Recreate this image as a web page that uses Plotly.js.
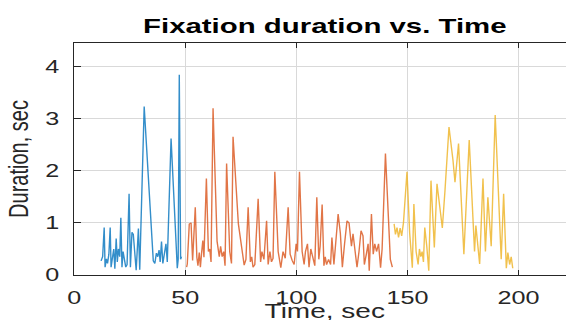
<!DOCTYPE html>
<html>
<head>
<meta charset="utf-8">
<script src="https://cdn.plot.ly/plotly-3.0.1.min.js"></script>
<style>
html, body { margin: 0; padding: 0; overflow: hidden; background: #fff; width: 566px; height: 320px; }
#plot { width: 411px; height: 320px; transform: scaleX(1.4); transform-origin: 0 0; }
</style>
</head>
<body>
<div id="plot"></div>
<script>
// Series 1 (blue)
const blueTime = [12.1,12.8,13.5,13.9,14.5,15.0,15.6,16.2,16.6,17.2,17.8,18.3,18.9,19.4,19.9,20.5,21.0,21.5,22.0,22.6,23.2,23.8,24.7,25.3,26.0,26.6,27.2,27.9,28.9,29.5,31.5,35.6,36.3,37.0,37.6,38.2,38.7,39.3,39.9,40.6,41.3,41.9,43.6,46.4,46.8,47.3,47.9,48.3];
const blueDur  = [0.27,0.35,0.91,0.15,0.31,0.22,0.40,0.91,0.15,0.30,0.50,0.12,0.70,0.25,0.50,0.35,1.10,0.15,0.45,0.30,0.15,0.20,1.56,0.15,0.82,0.78,0.40,0.09,0.89,0.10,3.23,0.27,0.22,0.42,0.35,0.48,0.25,0.64,0.22,0.40,0.60,0.25,2.62,0.13,0.30,3.84,0.30,0.35];

// Series 2 (orange)
const orangeTime = [50.6,50.9,51.8,52.6,53.3,54.5,55.2,55.7,56.3,56.8,57.4,57.9,58.4,59.5,60.4,61.0,61.6,62.5,64.3,65.3,65.9,66.6,67.3,67.9,68.6,70.0,70.8,71.5,73.9,74.8,75.6,76.5,77.3,78.3,79.3,79.9,80.5,81.3,82.8,83.9,84.5,85.4,86.6,87.3,88.1,88.8,89.5,90.3,91.8,93.0,94.0,95.0,96.3,97.2,98.1,99.0,99.9,100.5,101.4,102.6,103.5,104.1,105.0,105.7,106.5,107.5,108.3,109.2,110.1,110.7,111.6,112.4,113.0,113.6,114.5,115.4,116.0,116.9,117.8,118.8,119.8,120.7,121.7,122.8,123.7,124.8,125.5,126.4,127.3,128.2,129.1,130.0,130.6,131.5,132.3,132.8,133.8,134.6,135.3,136.1,137.0,137.9,138.6,140.1,142.3,143.2];
const orangeDur  = [0.15,0.21,0.98,1.00,0.28,1.30,0.34,0.18,0.43,0.15,0.45,0.66,0.34,1.85,0.45,0.50,0.25,3.20,0.65,0.35,0.55,0.35,0.45,0.18,2.14,0.45,0.22,2.65,0.98,0.70,0.50,0.19,0.30,1.30,0.25,0.35,0.15,0.20,1.46,0.25,0.45,0.30,1.04,0.20,0.45,0.25,0.32,1.98,0.45,0.14,0.45,0.32,1.30,0.40,0.28,0.20,0.60,0.45,1.98,0.45,0.20,0.45,0.60,0.15,0.50,0.35,0.18,1.49,0.30,0.55,1.35,0.18,0.35,0.20,0.30,0.20,0.72,0.20,0.60,1.17,0.80,0.15,0.60,1.04,1.00,0.55,0.79,0.40,0.15,0.45,0.85,0.75,0.20,0.40,0.60,0.08,1.17,0.40,0.60,0.45,0.60,0.14,0.50,2.33,0.30,0.15];

// Series 3 (yellow)
const yellowTime = [144.0,144.6,145.3,146.0,146.7,147.4,148.2,149.8,151.0,152.2,152.9,153.9,154.8,155.4,156.0,156.6,157.2,157.8,158.7,159.6,160.6,161.5,162.1,163.3,164.2,165.7,166.9,167.8,168.7,170.5,171.4,173.0,174.2,175.4,177.8,179.4,180.2,180.8,182.5,184.0,185.1,186.2,187.7,189.5,192.2,193.3,194.5,195.2,196.0,196.7,197.4];
const yellowDur  = [0.98,0.78,0.91,0.72,0.90,0.75,1.00,1.98,0.80,0.14,1.36,0.45,0.20,0.50,0.35,0.45,0.25,0.91,0.55,0.08,1.81,1.10,0.53,1.75,1.45,0.90,1.62,2.20,2.84,2.20,1.78,2.52,1.43,0.40,2.59,0.90,0.45,0.95,0.21,1.85,0.45,1.49,0.55,3.07,0.30,1.56,0.13,0.43,0.20,0.35,0.13];

const xTicks = [0, 50, 100, 150, 200, 250];
const yTicks = [0, 1, 2, 3, 4];

const axisColor = '#262626';
const fontFam = 'Liberation Sans, Arial, Helvetica, sans-serif';

const traces = [
  {x: blueTime, y: blueDur, type: 'scatter', mode: 'lines', line: {color: '#0072BD', width: 1}, opacity: 0.8, hoverinfo: 'skip'},
  {x: orangeTime, y: orangeDur, type: 'scatter', mode: 'lines', line: {color: '#D95319', width: 1}, opacity: 0.8, hoverinfo: 'skip'},
  {x: yellowTime, y: yellowDur, type: 'scatter', mode: 'lines', line: {color: '#EDB120', width: 1}, opacity: 0.8, hoverinfo: 'skip'}
];

const layout = {
  width: 411, height: 320,
  margin: {l: 53, r: 0, t: 43, b: 45},
  paper_bgcolor: '#ffffff', plot_bgcolor: '#ffffff',
  showlegend: false,
  font: {family: fontFam, color: axisColor, size: 18},
  title: {text: '<b>Fixation duration vs. Time</b>', font: {family: fontFam, size: 21, color: '#000'}, xref: 'paper', x: 0.5, xanchor: 'center', y: 0.92, yanchor: 'middle'},
  xaxis: {
    range: [0, 225.6], tickvals: xTicks, ticktext: xTicks.map(String),
    showgrid: true, gridcolor: '#d9d9d9', gridwidth: 1, zeroline: false,
    showline: true, linecolor: axisColor, linewidth: 1, mirror: 'ticks',
    ticks: 'inside', ticklen: 5, tickcolor: axisColor, tickwidth: 1,
    tickfont: {family: fontFam, size: 18, color: axisColor},
    ticklabelstandoff: 6,
    automargin: false
  },
  yaxis: {
    range: [0, 4.45], tickvals: yTicks,
    showgrid: true, gridcolor: '#d9d9d9', gridwidth: 1, zeroline: false,
    showline: true, linecolor: axisColor, linewidth: 1, mirror: false,
    ticks: 'inside', ticklen: 5, tickcolor: axisColor, tickwidth: 1,
    tickfont: {family: fontFam, size: 18, color: axisColor},
    ticklabelstandoff: 6,
    title: {text: 'Duration, sec', font: {family: fontFam, size: 20, color: axisColor}, standoff: 6},
    automargin: false
  },
  annotations: [{
    text: 'Time, sec', xref: 'paper', yref: 'paper', x: 0.5, y: 0,
    xanchor: 'center', yanchor: 'top', yshift: -23, showarrow: false,
    font: {family: fontFam, size: 20, color: axisColor}
  }]
};

Plotly.newPlot('plot', traces, layout, {staticPlot: true, displayModeBar: false});
</script>
</body>
</html>
